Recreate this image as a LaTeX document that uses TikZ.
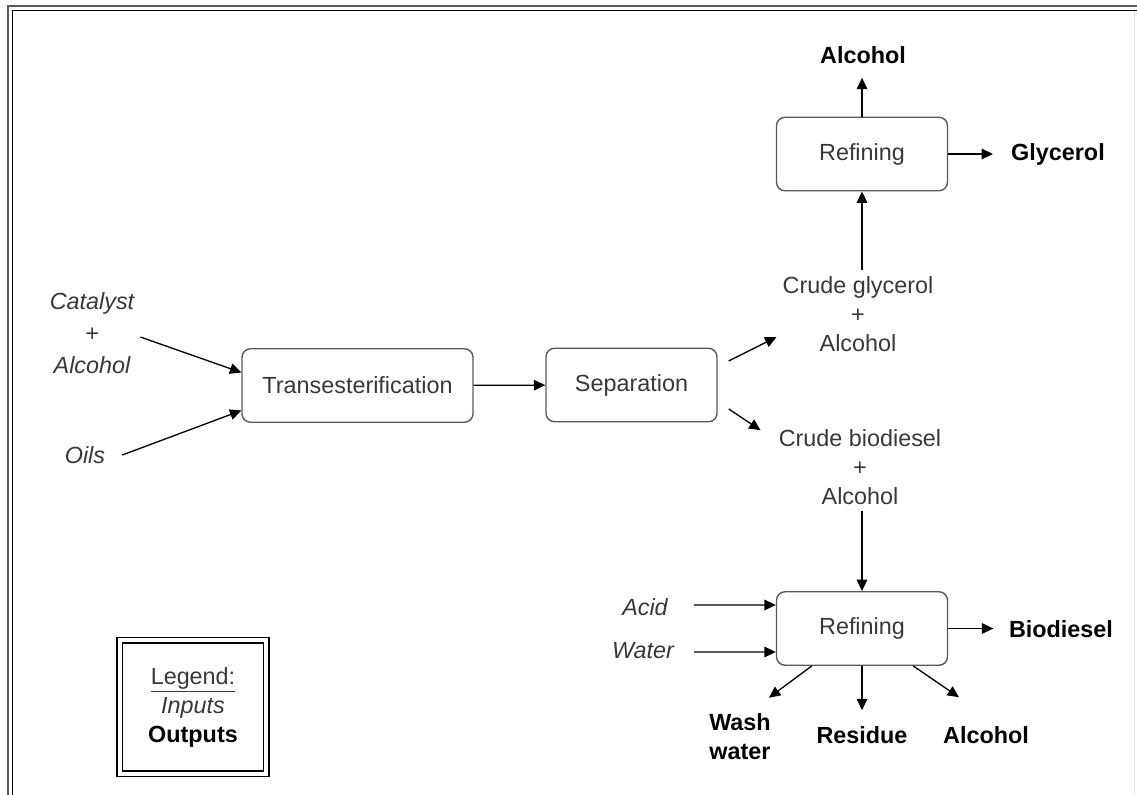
\documentclass[tikz,border=0pt]{standalone}
\usepackage{fontspec}
\setmainfont{Liberation Sans}
\usetikzlibrary{arrows.meta}
\definecolor{boxline}{gray}{0.35}
\definecolor{txtgray}{gray}{0.22}

\begin{document}
\begin{tikzpicture}[x=0.02cm, y=-0.02cm,
    >={Triangle[length=6.5pt,width=6pt]},
    every node/.style={font=\fontsize{13.3}{16.5}\selectfont},
    unit/.style={draw=boxline, line width=0.8pt, rounded corners=0.17cm,
        minimum width=3.42cm, minimum height=1.47cm, text=txtgray},
    inp/.style={text=txtgray, font=\fontsize{13.3}{16.5}\selectfont\itshape, align=center},
    stream/.style={text=txtgray, align=center},
    outp/.style={font=\fontsize{13.3}{16.5}\selectfont\bfseries, align=center},
    flow/.style={->, line width=0.75pt}]
            \useasboundingbox (0,0) rectangle (1137,795);

            % Frame
            \draw[boxline, line width=1.1pt] (8,795) -- (8,6) -- (1137,6);
            \draw[line width=1pt] (12.5,795) -- (12.5,10.5) -- (1137,10.5);
            \draw[gray!25] (1134,11) -- (1134,795);

            % Process units
            \node[unit, minimum width=4.62cm] (trans) at (357.5,385.5) {Transesterification};
            \node[unit] (sep) at (631.5,385) {Separation};
            \node[unit] (reftop) at (862,154) {Refining};
            \node[unit] (refbot) at (862,628.5) {Refining};

            % Inputs
            \node[inp, font=\fontsize{13.3}{18.4}\selectfont\itshape] (cat) at (92,333) {Catalyst\\+\\Alcohol};
            \node[inp] (oils) at (85,455) {Oils};
            \node[inp] (acid) at (645,607) {Acid};
            \node[inp] (water) at (643,651) {Water};

            % Intermediate streams
            \node[stream] (cgly) at (858,314) {Crude glycerol\\+\\Alcohol};
            \node[stream] (cbio) at (860,467) {Crude biodiesel\\+\\Alcohol};

            % Outputs
            \node[outp] (alctop) at (863,55) {Alcohol};
            \node[outp] (glyc) at (1058,154) {Glycerol};
            \node[outp] (biod) at (1061,629) {Biodiesel};
            \node[outp] (wash) at (740,737) {Wash\\water};
            \node[outp] (resid) at (862,735) {Residue};
            \node[outp] (alcbot) at (986,735) {Alcohol};

            % Legend
            \node[draw, double, line width=0.7pt, double distance=2.4pt,
                minimum width=2.93cm, minimum height=2.67cm, align=center] (legend) at (193,707)
                {\textcolor{txtgray}{\underline{Legend:}}\\\textcolor{txtgray}{\itshape Inputs}\\\textbf{Outputs}};

            % Flows
            \draw[flow] ([yshift=-0.08cm]cat.east) -- ([yshift=0.26cm]trans.west);
            \draw[flow] ([xshift=0.22cm]oils.east) -- ([yshift=-0.5cm]trans.west);
            \draw[flow] (trans) -- (sep);
            \draw[flow] ([xshift=0.22cm,yshift=0.48cm]sep.east) -- ([yshift=-0.46cm]cgly.west);
            \draw[flow] ([xshift=0.22cm,yshift=-0.48cm]sep.east) -- ([xshift=-0.24cm,yshift=-0.14cm]cbio.north west);
            \draw[flow] (reftop.south |- cgly.north) -- (reftop.south);
            \draw[flow, shorten >=0.16cm] (reftop.north) -- (reftop.north |- alctop.south);
            \draw[flow, shorten >=0.24cm] (reftop.east) -- (reftop.east -| glyc.west);
            \draw[flow] (refbot.north |- cbio.south) -- (refbot.north);
            \draw[flow] ([xshift=0.4cm,yshift=0.04cm]acid.east) -- ([yshift=0.47cm]refbot.west);
            \draw[flow] ([xshift=0.28cm,yshift=-0.02cm]water.east) -- ([yshift=-0.47cm]refbot.west);
            \draw[flow, shorten >=0.19cm] (refbot.east) -- (refbot.east -| biod.west);
            \draw[flow] ([xshift=0.72cm]refbot.south west) -- ([xshift=-0.16cm,yshift=0.2cm]wash.north east);
            \draw[flow, shorten >=0.2cm] (refbot.south) -- (resid.north);
            \draw[flow] ([xshift=-0.7cm]refbot.south east) -- ([xshift=-0.54cm,yshift=0.46cm]alcbot.north);

\end{tikzpicture}
\end{document}
